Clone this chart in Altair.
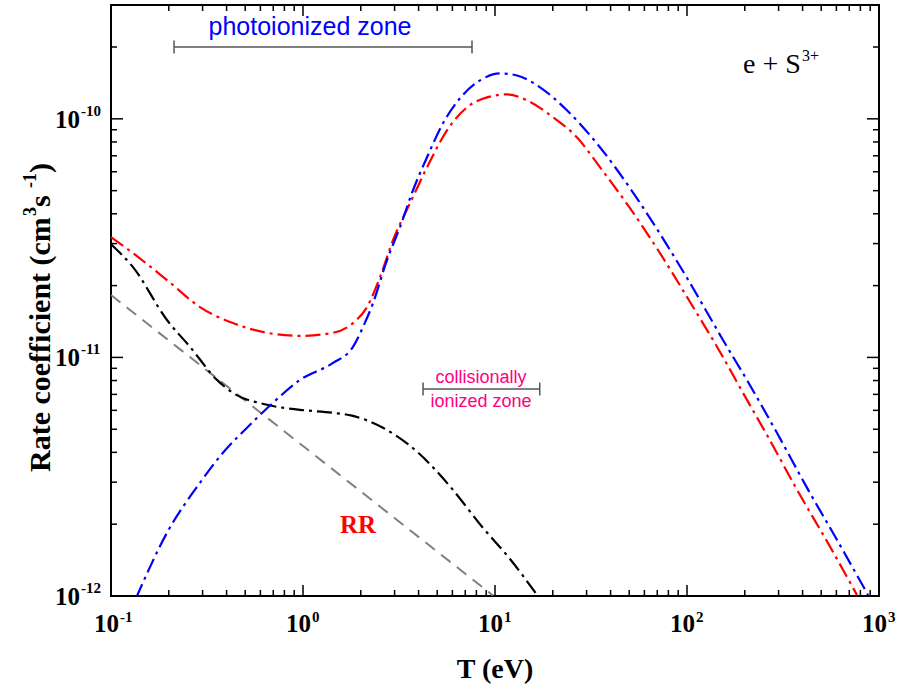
import altair as alt
import pandas as pd

# ---------------- data ----------------
blue_T = [0.135, 0.196, 0.291, 0.383, 0.511, 0.698, 0.965, 1.433, 1.821, 2.054, 2.316,
          2.738, 3.20, 3.74, 4.425, 5.36, 6.57, 8.36, 10.62, 13.02, 17.16, 23.7, 35.2,
          50.5, 69.8, 103.7, 154, 208, 294, 422, 604, 877]
blue_R = [0.98e-12, 1.845e-12, 2.985e-12, 3.985e-12, 5.07e-12, 6.46e-12, 8.05e-12, 9.48e-12,
          1.107e-11, 1.342e-11, 1.69e-11, 2.56e-11, 3.515e-11, 5.02e-11, 6.90e-11, 9.58e-11,
          1.219e-10, 1.449e-10, 1.55e-10, 1.52e-10, 1.355e-10, 1.086e-10, 7.60e-11, 5.12e-11,
          3.45e-11, 2.05e-11, 1.183e-11, 7.89e-12, 4.83e-12, 2.84e-12, 1.72e-12, 1.01e-12]

red_T = [0.1, 0.1302, 0.1957, 0.2906, 0.4318, 0.6494, 0.965, 1.433, 1.821, 2.154, 2.518,
         2.943, 3.609, 4.425, 5.623, 7.147, 9.085, 11.55, 14.68, 20.05, 26.7, 35.2, 50.5,
         72.35, 103.7, 148.6, 195.7, 264.1, 374, 555.6, 768]
red_R = [3.19e-11, 2.735e-11, 2.11e-11, 1.626e-11, 1.393e-11, 1.268e-11, 1.231e-11, 1.268e-11,
         1.393e-11, 1.626e-11, 2.17e-11, 3.10e-11, 4.43e-11, 6.26e-11, 8.95e-11, 1.117e-10,
         1.23e-10, 1.266e-10, 1.195e-10, 1.015e-10, 8.37e-11, 6.27e-11, 4.22e-11, 2.735e-11,
         1.707e-11, 1.054e-11, 7.10e-12, 4.65e-12, 2.79e-12, 1.61e-12, 1.01e-12]

black_T = [0.1, 0.1302, 0.1957, 0.258, 0.3565, 0.4318, 0.6494, 0.965, 1.433, 1.80, 2.61,
           3.924, 5.83, 8.66, 11.97, 16.55]
black_R = [2.98e-11, 2.39e-11, 1.435e-11, 1.107e-11, 8.05e-12, 7.10e-12, 6.33e-12, 6.03e-12,
           5.86e-12, 5.70e-12, 5.07e-12, 4.03e-12, 2.88e-12, 1.93e-12, 1.43e-12, 1.01e-12]

rr_T = [0.1, 0.965, 9.76]
rr_R = [1.826e-11, 4.35e-12, 1.005e-12]

photo_zone_T = [0.213, 7.59]
photo_zone_R = 2e-10
coll_zone_T = [4.22, 17.1]
coll_zone_R = 7.37e-12

x_major = [0.1, 1, 10, 100, 1000]
x_exps = ["-1", "0", "1", "2", "3"]
x_minor = [m * d for d in [0.1, 1, 10, 100] for m in range(2, 10)]
y_major = [1e-12, 1e-11, 1e-10]
y_exps = ["-12", "-11", "-10"]
y_minor = [m * d for d in [1e-12, 1e-11] for m in range(2, 10)] + [2e-10]

# ---------------- layout ----------------
W, H = 768, 591
SERIF = "Liberation Serif"
SANS = "Liberation Sans"
xs = alt.Scale(type="log", domain=[0.1, 1000], nice=False)
ys = alt.Scale(type="log", domain=[1e-12, 3e-10], nice=False)
X = lambda f="T": alt.X(f"{f}:Q", scale=xs, axis=None)
Y = lambda f="R": alt.Y(f"{f}:Q", scale=ys, axis=None)


def curve(T, R, color, dash, width=2.2):
    df = pd.DataFrame({"T": T, "R": R})
    return alt.Chart(df).mark_line(color=color, strokeDash=dash, strokeWidth=width,
                                   interpolate="monotone", clip=True).encode(x=X(), y=Y())


DASHDOT = [15, 5, 3, 5]
layers = []
layers.append(curve(rr_T, rr_R, "#808080", [12, 8], 2.0))
layers.append(curve(black_T, black_R, "black", DASHDOT))
layers.append(curve(red_T, red_R, "#ff0000", DASHDOT))
layers.append(curve(blue_T, blue_R, "#0000ff", DASHDOT))


# ticks (inward, on all four sides)
def xticks(vals, L):
    df = pd.DataFrame({"T": vals})
    b = alt.Chart(df).mark_rule(color="black", strokeWidth=1.5).encode(
        x=X(), y=alt.value(H), y2=alt.value(H - L))
    t = alt.Chart(df).mark_rule(color="black", strokeWidth=1.5).encode(
        x=X(), y=alt.value(0), y2=alt.value(L))
    return [b, t]


def yticks(vals, L):
    df = pd.DataFrame({"R": vals})
    l = alt.Chart(df).mark_rule(color="black", strokeWidth=1.5).encode(
        y=Y(), x=alt.value(0), x2=alt.value(L))
    r = alt.Chart(df).mark_rule(color="black", strokeWidth=1.5).encode(
        y=Y(), x=alt.value(W), x2=alt.value(W - L))
    return [l, r]


layers += xticks(x_major, 11) + xticks(x_minor, 6) + yticks(y_major, 12) + yticks(y_minor, 6)

# tick labels
xl = pd.DataFrame({"T": x_major, "e": x_exps})
layers.append(alt.Chart(xl).mark_text(text="10", align="right", baseline="alphabetic", font=SERIF,
                                      fontWeight="bold", fontSize=25, dx=8, color="black").encode(
    x=X(), y=alt.value(H + 36)))
layers.append(alt.Chart(xl).mark_text(align="left", baseline="alphabetic", font=SERIF,
                                      fontWeight="bold", fontSize=15, dx=9, color="black").encode(
    x=X(), y=alt.value(H + 26), text="e:N"))

yl = pd.DataFrame({"R": y_major, "e": y_exps})
layers.append(alt.Chart(yl).mark_text(text="10", align="right", baseline="alphabetic", font=SERIF,
                                      fontWeight="bold", fontSize=25, dy=9, color="black").encode(
    y=Y(), x=alt.value(-31)))
layers.append(alt.Chart(yl).mark_text(align="left", baseline="alphabetic", font=SERIF,
                                      fontWeight="bold", fontSize=15, dy=-3, color="black").encode(
    y=Y(), x=alt.value(-30), text="e:N"))


# free text helper
def txt(s, x, y, size, weight="bold", font=SERIF, color="black", align="left", angle=0):
    kw = dict(text=s, align=align, baseline="alphabetic", font=font, fontSize=size,
              fontWeight=weight, color=color)
    if angle:
        kw["angle"] = angle
    return alt.Chart(pd.DataFrame({"a": [0]})).mark_text(**kw).encode(
        x=alt.value(x), y=alt.value(y))


layers.append(txt("T (eV)", W / 2, H + 82, 28, align="center"))
# rotated y title with superscripts
layers.append(txt("Rate coefficient (cm", -61, 467, 30, angle=270))
layers.append(txt("3", -75, 211, 18, angle=270))
layers.append(txt(" s", -61, 202, 30, angle=270))
layers.append(txt("-1", -75, 183, 18, angle=270))
layers.append(txt(")", -61, 168, 30, angle=270))


# zone bars
def zone(Ts, R):
    df = pd.DataFrame({"T1": [Ts[0]], "T2": [Ts[1]], "R": [R]})
    bar = alt.Chart(df).mark_rule(color="#555555", strokeWidth=1.5).encode(
        x=X("T1"), x2="T2:Q", y=Y())
    ends = pd.DataFrame({"T": Ts, "R": [R, R]})
    caps = alt.Chart(ends).mark_point(shape="M0,-1L0,1", size=169, filled=False, color="#555555",
                                      strokeWidth=1.5, opacity=1).encode(x=X(), y=Y())
    return [bar, caps]


layers += zone(photo_zone_T, photo_zone_R) + zone(coll_zone_T, coll_zone_R)

# annotations
layers.append(txt("photoionized zone", 199, 30, 25, weight="normal", font=SANS, color="#0000ff",
                  align="center"))
layers.append(txt("collisionally", 370, 378, 18, weight="normal", font=SANS, color="#ff0080",
                  align="center"))
layers.append(txt("ionized zone", 370, 402, 18, weight="normal", font=SANS, color="#ff0080",
                  align="center"))
layers.append(txt("RR", 247, 528, 25, color="#ff0000", align="center"))
layers.append(txt("e + S", 632, 68, 28, weight="normal"))
layers.append(txt("3+", 691, 56, 16, weight="normal"))

chart = alt.layer(*layers).properties(
    width=W, height=H,
    padding={"left": 111, "top": 5, "right": 20, "bottom": 95},
    autosize=alt.AutoSizeParams(type="none"),
    background="white",
).configure_view(stroke="black", strokeWidth=2)

chart.save("out.html", embed_options={"renderer": "svg", "actions": False})
